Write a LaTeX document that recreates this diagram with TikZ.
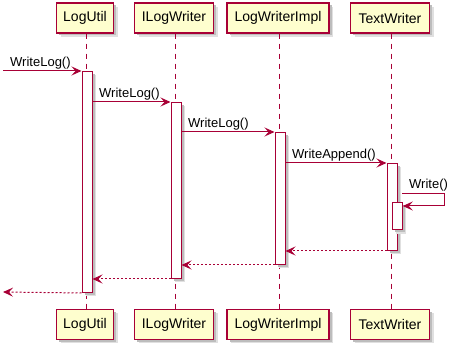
\documentclass[tikz,border=0pt]{standalone}
\usepackage{fontspec}
\setmainfont{Liberation Sans}
\usetikzlibrary{arrows.meta,shadows}
\definecolor{umlred}{HTML}{A80036}
\definecolor{umlfill}{HTML}{FEFECE}
\begin{document}
\begin{tikzpicture}[x=1pt,y=-1pt,
  softshadow/.style={
    general shadow={shadow xshift=4pt,shadow yshift=-4pt,fill=black!12},
    general shadow={shadow xshift=2.5pt,shadow yshift=-2.5pt,fill=black!26}},
  participant/.style={rectangle,draw=umlred,line width=1.1pt,fill=umlfill,
    minimum height=30pt,inner sep=0pt,font=\fontsize{14}{16}\selectfont,softshadow},
  activation/.style={rectangle,draw=umlred,line width=1pt,fill=white,
    minimum width=10pt,inner sep=0pt,anchor=north,softshadow},
  lifeline/.style={draw=umlred,line width=0.8pt,dash pattern=on 5pt off 5pt},
  msg/.style={draw=umlred,line width=1pt,-{Stealth[length=10pt,width=9pt,inset=4pt]}},
  ret/.style={msg,dash pattern=on 2pt off 2pt},
  lbl/.style={font=\fontsize{13}{15}\selectfont,inner sep=0pt,anchor=base west}]
\useasboundingbox (0,0) rectangle (459,350);

% participants, top and bottom
\node[participant,minimum width=57pt] (lu)  at (85,18) {LogUtil};
\node[participant,minimum width=79pt] (ilw) at (174,18) {ILogWriter};
\node[participant,minimum width=102pt] (lwi) at (278,18) {LogWriterImpl};
\node[participant,minimum width=79pt] (tw)  at (390,18) {TextWriter};
\node[participant,minimum width=57pt] (lub)  at (85,324.5) {LogUtil};
\node[participant,minimum width=79pt] (ilwb) at (174,324.5) {ILogWriter};
\node[participant,minimum width=102pt] (lwib) at (278,324.5) {LogWriterImpl};
\node[participant,minimum width=79pt] (twb)  at (390,324.5) {TextWriter};

% lifelines
\draw[lifeline] ([xshift=1pt]lu.south)  -- ([xshift=1pt]lub.north);
\draw[lifeline] ([xshift=1pt]ilw.south) -- ([xshift=1pt]ilwb.north);
\draw[lifeline] ([xshift=1pt]lwi.south) -- ([xshift=1pt]lwib.north);
\draw[lifeline] ([xshift=1pt]tw.south)  -- ([xshift=1pt]twb.north);

% activation bars
\node[activation,minimum height=221pt] (a1) at (87,71) {};
\node[activation,minimum height=176pt] (a2) at (176,102) {};
\node[activation,minimum height=132pt] (a3) at (280,132) {};
\node[activation,minimum height=87pt]  (a4) at (392,163) {};
\node[activation,minimum height=27.5pt] (a5) at (397.3,201.8) {};

% free ends and turning points
\coordinate (in)  at (3,71);
\coordinate (out) at (3,292);
\coordinate (s0)  at (402,193.3);
\coordinate (s1)  at (444.3,193.3);
\coordinate (s2)  at (444.3,206);

% calls
\draw[msg] (in) -- (a1.north west);
\draw[msg] (a1.east |- a2.north) -- (a2.north west);
\draw[msg] (a2.east |- a3.north) -- (a3.north west);
\draw[msg] (a3.east |- a4.north) -- (a4.north west);
\draw[msg] (s0) -- (s1) -- (s2) -- (a5.east |- s2);

% returns
\draw[ret] (a4.south west) -- (a3.east |- a4.south);
\draw[ret] (a3.south west) -- (a2.east |- a3.south);
\draw[ret] (a2.south west) -- (a1.east |- a2.south);
\draw[ret] (a1.south west) -- (out);

% message labels
\node[lbl] (l1) at (10,66.5) {WriteLog()};
\node[lbl] (l2) at (99,97.5) {WriteLog()};
\node[lbl] (l3) at (188,127.5) {WriteLog()};
\node[lbl] (l4) at (292,158.5) {WriteAppend()};
\node[lbl] (l5) at (409,189) {Write()};
\end{tikzpicture}
\end{document}
